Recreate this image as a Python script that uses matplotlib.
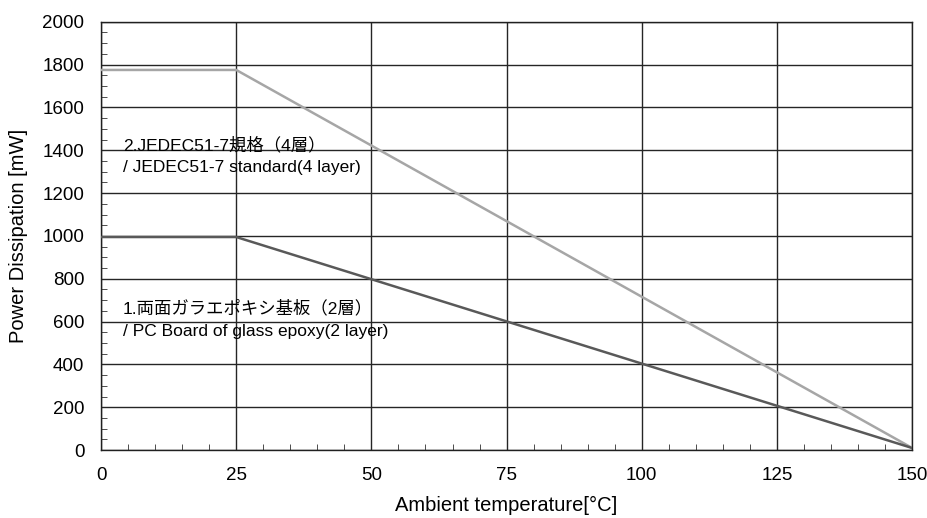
import matplotlib.pyplot as plt
from matplotlib.ticker import MultipleLocator

plt.rcParams['font.family'] = ['Liberation Sans', 'Noto Sans CJK JP', 'DejaVu Sans']

# data
temp = [0, 25, 150]
pd_jedec = [1775, 1775, 10]   # 2. JEDEC51-7 (4 layer)
pd_glass = [995, 995, 10]     # 1. glass epoxy (2 layer)

label_jedec = ['2.JEDEC51-7規格（4層）', '/ JEDEC51-7 standard(4 layer)']
label_glass = ['1.両面ガラエポキシ基板（2層）', '/ PC Board of glass epoxy(2 layer)']

fig = plt.figure(figsize=(9.27, 5.18), dpi=100)
ax = fig.add_subplot(111)
fig.subplots_adjust(left=0.109, right=0.984, bottom=0.131, top=0.958)

ax.plot(temp, pd_jedec, color='#a6a6a6', lw=1.8, zorder=3)
ax.plot(temp, pd_glass, color='#595959', lw=1.8, zorder=3)

ax.set_xlim(0, 150)
ax.set_ylim(0, 2000)
ax.xaxis.set_major_locator(MultipleLocator(25))
ax.yaxis.set_major_locator(MultipleLocator(200))
ax.xaxis.set_minor_locator(MultipleLocator(5))
ax.yaxis.set_minor_locator(MultipleLocator(50))
ax.grid(True, which='major', color='#252525', lw=1.0)
ax.tick_params(which='both', direction='in', labelsize=13.5)
ax.tick_params(which='major', length=0, pad=12)
ax.tick_params(which='minor', length=4, color='#303030')
for s in ax.spines.values():
    s.set_color('#202020')
    s.set_linewidth(1.0)

ax.set_xlabel('Ambient temperature[°C]', fontsize=14.5, labelpad=9)
ax.set_ylabel('Power Dissipation [mW]', fontsize=14.5, labelpad=10)

# curve labels
ax.text(4.0, 1426, label_jedec[0], fontsize=12.5, va='center', zorder=4)
ax.text(4.0, 1318, label_jedec[1], fontsize=12.5, va='center', zorder=4)
ax.text(4.0, 664, label_glass[0], fontsize=12.5, va='center', zorder=4)
ax.text(4.0, 552, label_glass[1], fontsize=12.5, va='center', zorder=4)

fig.savefig('out.png', dpi=100)
